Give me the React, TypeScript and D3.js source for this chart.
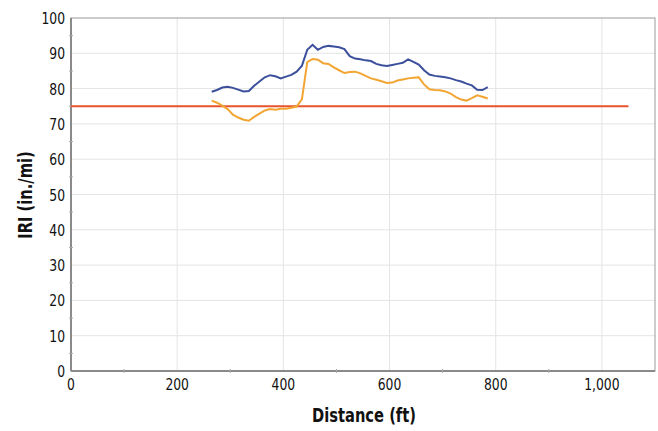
import React, { useEffect, useRef } from 'react';
import * as d3 from 'd3';

// distance along the section (ft) and IRI readings for the two runs
const distance = [
  265, 275, 285, 295, 305, 315, 325, 335, 345, 355, 365, 375, 385, 395, 405, 415, 425, 435,
  445, 455, 465, 475, 485, 495, 505, 515, 525, 535, 545, 555, 565, 575, 585, 595, 605, 615,
  625, 635, 645, 655, 665, 675, 685, 695, 705, 715, 725, 735, 745, 755, 765, 775, 785,
];
const blueIri = [
  79.1, 79.6, 80.3, 80.5, 80.2, 79.7, 79.2, 79.3, 80.8, 82.0, 83.2, 83.8, 83.5, 82.9, 83.4, 83.9, 84.8, 86.5,
  91.0, 92.4, 91.0, 91.8, 92.1, 91.9, 91.7, 91.2, 89.2, 88.5, 88.3, 88.0, 87.8, 87.0, 86.6, 86.4, 86.7, 87.0,
  87.3, 88.3, 87.6, 86.8, 85.2, 84.0, 83.6, 83.4, 83.2, 82.9, 82.4, 82.0, 81.4, 80.9, 79.7, 79.6, 80.4,
];
const orangeIri = [
  76.6, 76.0, 75.2, 74.2, 72.6, 71.8, 71.2, 70.9, 72.0, 72.9, 73.8, 74.2, 74.0, 74.3, 74.3, 74.6, 74.9, 77.0,
  87.5, 88.4, 88.2, 87.2, 87.0, 86.0, 85.2, 84.4, 84.7, 84.8, 84.3, 83.6, 82.9, 82.5, 82.1, 81.6, 81.7, 82.3,
  82.6, 82.9, 83.1, 83.2, 81.2, 79.8, 79.6, 79.5, 79.2, 78.6, 77.6, 76.9, 76.6, 77.3, 78.1, 77.7, 77.2,
];
const threshold = 75;
const thresholdEnd = 1050;

const xTicks = [0, 200, 400, 600, 800, 1000];
const yTicks = [0, 10, 20, 30, 40, 50, 60, 70, 80, 90, 100];

const W = 658;
const H = 431;
const FONT = "'Liberation Sans Narrow', 'DejaVu Sans Condensed', 'Roboto', sans-serif";
const SQUEEZE = 0.86; // condensed look of the original type

const App: React.FC = () => {
  const svgRef = useRef<SVGSVGElement>(null);

  useEffect(() => {
    if (!svgRef.current) return;
    const svg = d3.select(svgRef.current);
    svg.selectAll('*').remove();

    const left = 71, right = 655, top = 18, bottom = 371;
    const x = d3.scaleLinear().domain([0, 1100]).range([left, right]);
    const y = d3.scaleLinear().domain([0, 100]).range([bottom, top]);

    const g = svg.append('g');

    const label = (tx: number, ty: number, txt: string, anchor: string, size: number, bold = false, rot = 0) => {
      g.append('text')
        .attr('transform', `translate(${tx},${ty}) rotate(${rot}) scale(${SQUEEZE},1)`)
        .attr('text-anchor', anchor)
        .style('font-family', FONT)
        .style('font-size', `${size}px`)
        .style('font-weight', bold ? 'bold' : 'normal')
        .style('fill', '#111')
        .text(txt);
    };

    // grid
    xTicks.filter(t => t > 0).forEach(t => {
      g.append('line')
        .attr('x1', x(t)).attr('x2', x(t)).attr('y1', top).attr('y2', bottom)
        .style('stroke', '#e4e4e4').style('stroke-width', 1);
    });
    yTicks.filter(t => t > 0 && t < 100).forEach(t => {
      g.append('line')
        .attr('x1', left).attr('x2', right).attr('y1', y(t)).attr('y2', y(t))
        .style('stroke', '#e4e4e4').style('stroke-width', 1);
    });

    // frame
    g.append('rect')
      .attr('x', left).attr('y', top).attr('width', right - left).attr('height', bottom - top)
      .style('fill', 'none').style('stroke', '#9a9a9a').style('stroke-width', 1);
    g.append('line')
      .attr('x1', left).attr('x2', left).attr('y1', top).attr('y2', bottom)
      .style('stroke', '#8a8a8a').style('stroke-width', 2);
    g.append('line')
      .attr('x1', left).attr('x2', right).attr('y1', bottom).attr('y2', bottom)
      .style('stroke', '#8a8a8a').style('stroke-width', 2);

    // minor ticks
    d3.range(5, 100, 10).forEach(t => {
      g.append('line')
        .attr('x1', left - 2).attr('x2', left + 2).attr('y1', y(t)).attr('y2', y(t))
        .style('stroke', '#aaa');
    });
    d3.range(100, 1100, 200).forEach(t => {
      g.append('line')
        .attr('x1', x(t)).attr('x2', x(t)).attr('y1', bottom - 2).attr('y2', bottom + 2)
        .style('stroke', '#aaa');
    });

    // tick labels
    yTicks.forEach(t => label(left - 6, y(t) + 6, String(t), 'end', 16));
    xTicks.forEach(t => label(x(t), bottom + 19, d3.format(',')(t), 'middle', 16));

    // axis titles
    label(364, 422, 'Distance (ft)', 'middle', 19, true);
    label(32, 195, 'IRI (in./mi)', 'middle', 19, true, -90);

    // threshold line
    g.append('line')
      .attr('x1', x(0)).attr('x2', x(thresholdEnd)).attr('y1', y(threshold)).attr('y2', y(threshold))
      .style('stroke', '#e8532e').style('stroke-width', 2);

    const line = d3.line<number>()
      .x((_, i) => x(distance[i]))
      .y(d => y(d));

    g.append('path')
      .datum(orangeIri)
      .attr('d', line)
      .style('fill', 'none').style('stroke', '#f2a533').style('stroke-width', 2);
    g.append('path')
      .datum(blueIri)
      .attr('d', line)
      .style('fill', 'none').style('stroke', '#3c4f9c').style('stroke-width', 2);
  }, []);

  return (
    <svg
      ref={svgRef}
      width={W}
      height={H}
      style={{ position: 'absolute', left: 0, top: 0, background: '#fff' }}
    />
  );
};

export default App;
